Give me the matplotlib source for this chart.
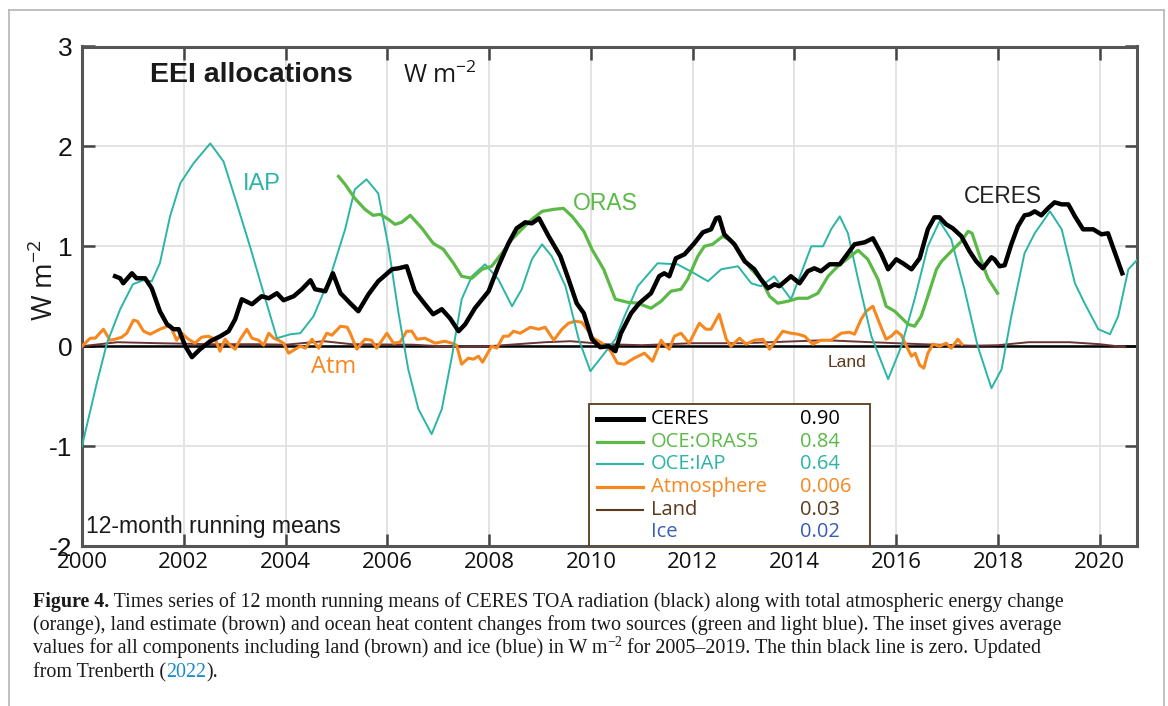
import matplotlib
matplotlib.use('Agg')
import matplotlib.pyplot as plt
from matplotlib.lines import Line2D
from matplotlib.patches import Rectangle

# ---- data (year, W m-2) ----
ceres_yr = [2000.65, 2000.75, 2000.81, 2000.98, 2001.07, 2001.24, 2001.37, 2001.53, 2001.67, 2001.8,
            2001.9, 2002.03, 2002.16, 2002.32, 2002.52, 2002.72, 2002.88, 2003.01, 2003.14, 2003.34,
            2003.53, 2003.67, 2003.83, 2003.96, 2004.16, 2004.32, 2004.49, 2004.58, 2004.78, 2004.93,
            2005.08, 2005.27, 2005.43, 2005.63, 2005.82, 2006.09, 2006.22, 2006.38, 2006.54, 2006.74,
            2006.9, 2007.07, 2007.23, 2007.4, 2007.53, 2007.72, 2007.99, 2008.18, 2008.38, 2008.54,
            2008.71, 2008.84, 2008.98, 2009.17, 2009.4, 2009.56, 2009.72, 2009.86, 2010.02, 2010.18,
            2010.35, 2010.48, 2010.59, 2010.79, 2010.95, 2011.18, 2011.34, 2011.44, 2011.54, 2011.67,
            2011.84, 2012.03, 2012.2, 2012.36, 2012.46, 2012.52, 2012.62, 2012.82, 2013.02, 2013.21,
            2013.34, 2013.48, 2013.61, 2013.7, 2013.93, 2014.1, 2014.26, 2014.39, 2014.52, 2014.69,
            2014.89, 2015.05, 2015.18, 2015.38, 2015.54, 2015.7, 2015.84, 2016.0, 2016.13, 2016.3,
            2016.46, 2016.62, 2016.75, 2016.85, 2016.98, 2017.11, 2017.28, 2017.44, 2017.57, 2017.7,
            2017.87, 2017.93, 2018.03, 2018.13, 2018.26, 2018.39, 2018.52, 2018.62, 2018.72, 2018.85,
            2018.98, 2019.11, 2019.25, 2019.38, 2019.51, 2019.67, 2019.87, 2020.03, 2020.16, 2020.3,
            2020.44]
ceres_val = [0.70, 0.68, 0.63, 0.73, 0.68, 0.68, 0.58, 0.35, 0.22, 0.17,
             0.17, 0.0, -0.11, -0.03, 0.05, 0.10, 0.15, 0.27, 0.47, 0.42,
             0.50, 0.48, 0.53, 0.46, 0.50, 0.57, 0.66, 0.57, 0.55, 0.73,
             0.53, 0.43, 0.35, 0.52, 0.65, 0.77, 0.78, 0.80, 0.55, 0.42,
             0.32, 0.37, 0.28, 0.15, 0.22, 0.38, 0.55, 0.80, 1.03, 1.18,
             1.24, 1.23, 1.28, 1.10, 0.90, 0.67, 0.43, 0.33, 0.07, -0.01,
             0.0, -0.05, 0.13, 0.33, 0.43, 0.53, 0.70, 0.73, 0.70, 0.88,
             0.92, 1.03, 1.14, 1.17, 1.28, 1.29, 1.12, 1.02, 0.85, 0.77,
             0.67, 0.58, 0.62, 0.60, 0.70, 0.63, 0.75, 0.78, 0.75, 0.82,
             0.82, 0.93, 1.02, 1.04, 1.08, 0.93, 0.77, 0.87, 0.83, 0.77,
             0.88, 1.17, 1.29, 1.29, 1.22, 1.18, 1.10, 0.95, 0.85, 0.78,
             0.89, 0.87, 0.80, 0.81, 1.02, 1.20, 1.31, 1.32, 1.35, 1.31,
             1.38, 1.44, 1.42, 1.42, 1.30, 1.17, 1.17, 1.12, 1.13, 0.93,
             0.73]

oras_yr = [2005.04, 2005.17, 2005.36, 2005.56, 2005.72, 2005.86, 2006.02, 2006.15, 2006.28, 2006.45,
           2006.68, 2006.9, 2007.1, 2007.3, 2007.46, 2007.66, 2007.86, 2008.05, 2008.25, 2008.45,
           2008.64, 2008.84, 2009.04, 2009.27, 2009.46, 2009.63, 2009.86, 2010.02, 2010.25, 2010.48,
           2010.72, 2010.92, 2011.18, 2011.38, 2011.57, 2011.77, 2011.9, 2012.1, 2012.23, 2012.39,
           2012.59, 2012.75, 2012.95, 2013.15, 2013.34, 2013.51, 2013.67, 2013.87, 2014.07, 2014.26,
           2014.46, 2014.66, 2014.85, 2015.05, 2015.25, 2015.44, 2015.64, 2015.8, 2015.97, 2016.23,
           2016.36, 2016.49, 2016.62, 2016.79, 2016.89, 2017.08, 2017.28, 2017.41, 2017.49, 2017.64,
           2017.8, 2017.99]
oras_val = [1.70, 1.62, 1.48, 1.37, 1.31, 1.32, 1.27, 1.22, 1.24, 1.31,
            1.18, 1.03, 0.97, 0.83, 0.70, 0.68, 0.77, 0.80, 0.93, 1.07,
            1.17, 1.27, 1.35, 1.37, 1.38, 1.30, 1.15, 0.97, 0.77, 0.47,
            0.44, 0.43, 0.38, 0.45, 0.55, 0.57, 0.67, 0.90, 1.0, 1.02,
            1.10, 1.06, 0.92, 0.77, 0.67, 0.50, 0.43, 0.45, 0.48, 0.48,
            0.53, 0.70, 0.80, 0.88, 0.96, 0.87, 0.67, 0.40, 0.35, 0.22,
            0.20, 0.30, 0.50, 0.77, 0.85, 0.95, 1.05, 1.15, 1.13, 0.90,
            0.68, 0.53]

iap_yr = [2000.0, 2000.29, 2000.49, 2000.75, 2001.0, 2001.2, 2001.37, 2001.53, 2001.73, 2001.93,
          2002.19, 2002.52, 2002.78, 2003.04, 2003.3, 2003.57, 2003.83, 2004.1, 2004.29, 2004.55,
          2004.88, 2005.17, 2005.36, 2005.59, 2005.82, 2006.02, 2006.22, 2006.41, 2006.61, 2006.87,
          2007.07, 2007.27, 2007.46, 2007.66, 2007.92, 2008.18, 2008.45, 2008.64, 2008.84, 2009.04,
          2009.23, 2009.5, 2009.76, 2009.99, 2010.22, 2010.48, 2010.66, 2010.92, 2011.31, 2011.7,
          2012.03, 2012.3, 2012.56, 2012.89, 2013.15, 2013.34, 2013.6, 2013.93, 2014.13, 2014.33,
          2014.56, 2014.72, 2014.89, 2015.05, 2015.25, 2015.51, 2015.84, 2016.1, 2016.36, 2016.62,
          2016.85, 2017.08, 2017.34, 2017.6, 2017.87, 2018.07, 2018.26, 2018.52, 2018.72, 2019.02,
          2019.25, 2019.51, 2019.7, 2019.97, 2020.2, 2020.36, 2020.56, 2020.8]
iap_val = [-1.0, -0.37, 0.03, 0.37, 0.62, 0.66, 0.65, 0.83, 1.30, 1.63,
           1.83, 2.03, 1.85, 1.43, 1.0, 0.53, 0.08, 0.12, 0.13, 0.30,
           0.70, 1.17, 1.57, 1.67, 1.53, 1.0, 0.33, -0.23, -0.63, -0.88,
           -0.63, -0.1, 0.47, 0.70, 0.82, 0.67, 0.40, 0.57, 0.87, 1.02,
           0.90, 0.60, 0.07, -0.25, -0.1, 0.07, 0.30, 0.60, 0.83, 0.82,
           0.73, 0.65, 0.77, 0.80, 0.63, 0.60, 0.70, 0.47, 0.73, 1.0,
           1.0, 1.17, 1.30, 1.13, 0.67, 0.10, -0.33, 0.0, 0.47, 1.0,
           1.25, 1.07, 0.57, 0.0, -0.42, -0.23, 0.30, 0.93, 1.13, 1.35,
           1.17, 0.63, 0.43, 0.17, 0.12, 0.30, 0.77, 0.90]

atm_yr = [2000.0, 2000.16, 2000.26, 2000.42, 2000.55, 2000.65, 2000.78, 2000.88, 2001.01, 2001.09,
          2001.21, 2001.34, 2001.53, 2001.73, 2001.86, 2001.96, 2002.09, 2002.22, 2002.35, 2002.48,
          2002.62, 2002.71, 2002.81, 2002.91, 2003.01, 2003.11, 2003.24, 2003.34, 2003.47, 2003.57,
          2003.67, 2003.77, 2003.86, 2003.96, 2004.06, 2004.19, 2004.29, 2004.39, 2004.52, 2004.65,
          2004.81, 2004.91, 2005.08, 2005.21, 2005.27, 2005.4, 2005.56, 2005.69, 2005.79, 2005.99,
          2006.12, 2006.25, 2006.38, 2006.48, 2006.58, 2006.74, 2006.94, 2007.13, 2007.27, 2007.36,
          2007.46, 2007.59, 2007.69, 2007.79, 2007.87, 2008.05, 2008.15, 2008.28, 2008.38, 2008.48,
          2008.61, 2008.81, 2008.97, 2009.1, 2009.27, 2009.43, 2009.56, 2009.69, 2009.82, 2009.92,
          2010.05, 2010.22, 2010.39, 2010.52, 2010.66, 2010.85, 2011.05, 2011.21, 2011.38, 2011.44,
          2011.54, 2011.64, 2011.77, 2011.93, 2012.13, 2012.26, 2012.36, 2012.52, 2012.66, 2012.75,
          2012.92, 2013.05, 2013.21, 2013.38, 2013.51, 2013.64, 2013.77, 2013.93, 2014.07, 2014.2,
          2014.36, 2014.52, 2014.72, 2014.92, 2015.08, 2015.18, 2015.31, 2015.41, 2015.54, 2015.67,
          2015.8, 2015.9, 2016.0, 2016.1, 2016.2, 2016.3, 2016.37, 2016.46, 2016.54, 2016.62,
          2016.72, 2016.85, 2016.98, 2017.08, 2017.21, 2017.29]
atm_val = [0.0, 0.08, 0.08, 0.17, 0.06, 0.07, 0.09, 0.13, 0.26, 0.25,
           0.15, 0.12, 0.17, 0.21, 0.06, 0.13, 0.07, 0.03, 0.09, 0.10,
           0.07, -0.05, 0.07, 0.01, -0.03, 0.07, 0.17, 0.08, 0.06, 0.01,
           0.13, 0.08, 0.06, 0.03, -0.07, -0.03, 0.0, -0.02, 0.07, -0.02,
           0.13, 0.11, 0.20, 0.19, 0.13, -0.03, 0.07, 0.06, -0.02, 0.13,
           0.03, 0.04, 0.15, 0.15, 0.07, 0.08, 0.03, 0.05, 0.03, 0.01,
           -0.18, -0.12, -0.13, -0.10, -0.16, 0.0, -0.02, 0.10, 0.10, 0.15,
           0.13, 0.19, 0.17, 0.19, 0.06, 0.17, 0.23, 0.25, 0.24, 0.17,
           0.08, 0.03, -0.05, -0.17, -0.18, -0.12, -0.07, -0.15, 0.06, 0.02,
           -0.03, 0.10, 0.13, 0.03, 0.23, 0.17, 0.17, 0.32, 0.07, 0.0,
           0.08, 0.02, 0.06, 0.07, -0.03, 0.06, 0.15, 0.13, 0.12, 0.10,
           0.02, 0.06, 0.06, 0.13, 0.14, 0.12, 0.27, 0.35, 0.40, 0.23,
           0.07, 0.10, 0.15, 0.11, 0.0, -0.10, -0.07, -0.19, -0.22, -0.07,
           0.02, 0.0, 0.03, -0.02, 0.07, 0.02]

land_yr = [2000.0, 2000.7, 2001.5, 2002.5, 2003.5, 2004.0, 2004.75, 2005.3, 2006.5, 2007.4,
           2008.0, 2009.1, 2009.6, 2010.3, 2011.0, 2012.0, 2013.0, 2014.6, 2015.5, 2016.5,
           2017.5, 2018.0, 2018.6, 2019.4, 2020.0, 2020.5]
land_val = [0.0, 0.04, 0.03, 0.02, 0.02, 0.015, 0.05, 0.02, 0.015, -0.01,
            0.0, 0.04, 0.05, 0.02, 0.01, 0.03, 0.03, 0.06, 0.04, 0.02,
            0.005, 0.01, 0.04, 0.04, 0.02, -0.01]

inset_names = ['CERES', 'OCE:ORAS5', 'OCE:IAP', 'Atmosphere', 'Land', 'Ice']
inset_values = ['0.90', '0.84', '0.64', '0.006', '0.03', '0.02']

x_ticks = list(range(2000, 2021, 2))
y_ticks = [-2, -1, 0, 1, 2, 3]

# ---- style ----
C_CERES = '#000000'
C_ORAS = '#5ab947'
C_IAP = '#2bb5a6'
C_ATM = '#f7871f'
C_LAND = '#6b3535'
C_LANDTXT = '#5c3a1c'
C_ICE = '#3a5cb8'
NARROW = ['Liberation Sans', 'DejaVu Sans']
WIDE = ['Open Sans', 'DejaVu Sans']
SERIF = ['Liberation Serif', 'DejaVu Serif']

plt.rcParams['mathtext.fontset'] = 'custom'
plt.rcParams['mathtext.rm'] = 'Open Sans'

W, H = 1168, 706
fig = plt.figure(figsize=(W / 100, H / 100), dpi=100)
fig.patch.set_facecolor('white')

# outer gray frame of the figure panel
for xs, ys in [([8.5, 8.5], [H, 9.5]), ([8.5, 1164], [9.5, 9.5]), ([1164, 1164], [9.5, H])]:
    fig.add_artist(Line2D([x / W for x in xs], [1 - y / H for y in ys],
                          color='#b5b5b5', lw=1.2, transform=fig.transFigure))

AX_L, AX_R, AX_T, AX_B = 82, 1137, 46.5, 546
ax = fig.add_axes([AX_L / W, 1 - AX_B / H, (AX_R - AX_L) / W, (AX_B - AX_T) / H])


def px2ax(x, y):
    return (x - AX_L) / (AX_R - AX_L), (AX_B - y) / (AX_B - AX_T)


ax.set_xlim(2000, 2020.73)
ax.set_ylim(-2, 3)
ax.grid(True, color='#e3e3e3', lw=1.4)
ax.set_axisbelow(True)
for sp in ax.spines.values():
    sp.set_color('#555555')
    sp.set_linewidth(2.2)
ax.tick_params(direction='in', length=9, width=1.8, color='#444444',
               top=True, right=True)
ax.set_xticks(x_ticks, [str(t) for t in x_ticks], fontsize=16, family=WIDE, color='#111111')
ax.set_yticks(y_ticks, [str(t) for t in y_ticks], fontsize=19, family=NARROW, color='#111111')
ax.tick_params(axis='x', pad=4)
ax.tick_params(axis='y', pad=7)

ax.axhline(0, color='black', lw=1.8, zorder=2)
ax.plot(land_yr, land_val, color=C_LAND, lw=1.4, zorder=3)
ax.plot(atm_yr, atm_val, color=C_ATM, lw=2.2, zorder=3)
ax.plot(iap_yr, iap_val, color=C_IAP, lw=1.4, zorder=4)
ax.plot(oras_yr, oras_val, color=C_ORAS, lw=2.3, zorder=4)
ax.plot(ceres_yr, ceres_val, color=C_CERES, lw=3.2, zorder=5)

# curve labels
ax.text(2003.16, 1.62, 'IAP', color=C_IAP, fontsize=17, family=NARROW, va='center')
ax.text(2009.65, 1.43, 'ORAS', color=C_ORAS, fontsize=16.5, family=NARROW, va='center')
ax.text(2017.33, 1.50, 'CERES', color='#222222', fontsize=16.3, family=NARROW, va='center')
ax.text(2004.5, -0.21, 'Atm', color=C_ATM, fontsize=17, family=WIDE, va='center')
ax.text(2014.66, -0.16, 'Land', color=C_LANDTXT, fontsize=12.5, family=NARROW, va='center')

ax.text(*px2ax(150, 75), 'EEI allocations', transform=ax.transAxes, fontsize=20.5,
        fontweight='bold', family=NARROW, va='center', color='#1a1a1a')
ax.text(*px2ax(403, 76), r'W m$^{\mathregular{-2}}$', transform=ax.transAxes, fontsize=18,
        family=WIDE, va='center', color='#1a1a1a')
ax.text(*px2ax(86, 527), '12-month running means', transform=ax.transAxes, fontsize=16.5,
        family=NARROW, va='center', color='#1a1a1a')
fig.text(45 / W, 1 - 280 / H, r'W m$^{\mathregular{-2}}$', rotation=90, fontsize=20,
         family=WIDE, ha='center', va='center', color='#1a1a1a')

# inset table
bx0, by0 = px2ax(589, 546)
bx1, by1 = px2ax(870, 404)
ax.add_patch(Rectangle((bx0, by0), bx1 - bx0, by1 - by0, transform=ax.transAxes,
                       facecolor='white', edgecolor='#5c3a1c', lw=1.3, zorder=10))
row_y = [419, 442, 464, 487, 510, 532]
row_col = [C_CERES, C_ORAS, C_IAP, C_ATM, C_LANDTXT, C_ICE]
row_lw = [3.6, 2.3, 1.5, 2.3, 1.5, 0]
for name, val, y, c, lw in zip(inset_names, inset_values, row_y, row_col, row_lw):
    if lw > 0:
        xa, ya = px2ax(597, y)
        xb, _ = px2ax(643, y)
        ax.add_line(Line2D([xa, xb], [ya, ya], color=c, lw=lw, transform=ax.transAxes,
                           zorder=11))
    ax.text(*px2ax(651, y), name, transform=ax.transAxes, color=c, fontsize=14.5,
            family=WIDE, va='center', zorder=11)
    ax.text(*px2ax(800, y), val, transform=ax.transAxes, color=c, fontsize=14.5,
            family=WIDE, va='center', zorder=11)

# ---- caption ----
renderer = fig.canvas.get_renderer()
CAP_FS = 14.4


def caption_line(y, parts):
    x = 33
    for txt, kw in parts:
        t = fig.text(x / W, 1 - y / H, txt, fontsize=kw.get('fs', CAP_FS), family=SERIF,
                     color=kw.get('color', '#1a1a1a'), fontweight=kw.get('weight', 'normal'),
                     va='baseline', ha='left')
        if 'rise' in kw:
            t.set_position((x / W, 1 - (y - kw['rise']) / H))
        x += t.get_window_extent(renderer).width


caption_line(607, [('Figure 4.', {'weight': 'bold'}),
                   (' Times series of 12 month running means of CERES TOA radiation (black) '
                    'along with total atmospheric energy change', {})])
caption_line(630, [('(orange), land estimate (brown) and ocean heat content changes from two '
                    'sources (green and light blue). The inset gives average', {})])
caption_line(653, [('values for all components including land (brown) and ice (blue) in W m', {}),
                   ('\u22122', {'fs': CAP_FS * 0.7, 'rise': 7}),
                   (' for 2005\u20132019. The thin black line is zero. Updated', {})])
caption_line(677, [('from Trenberth (', {}), ('2022', {'color': '#1a8cc6'}), (').', {})])

fig.savefig('out.png', dpi=100)
